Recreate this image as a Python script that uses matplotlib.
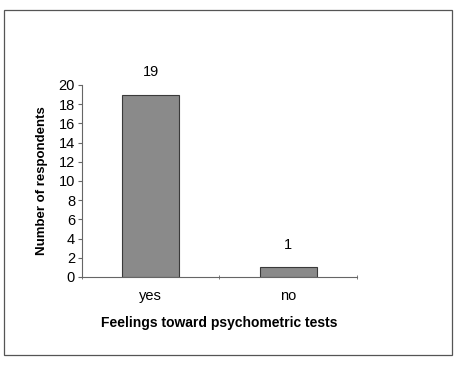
import matplotlib.pyplot as plt
from matplotlib.patches import Rectangle

plt.rcParams["font.family"] = ["Liberation Sans", "DejaVu Sans"]

categories = ["yes", "no"]
counts = [19, 1]
y_ticks = list(range(0, 21, 2))

fig = plt.figure(figsize=(4.62, 3.70), dpi=100)

# outer frame around the whole chart
fig.patches.append(Rectangle((0.0087, 0.0405), 0.9697, 0.9324, transform=fig.transFigure,
                             fill=False, edgecolor="#555555", linewidth=0.9))

ax = fig.add_axes([0.1775, 0.2514, 0.5952, 0.5189])
x = list(range(len(categories)))
bars = ax.bar(x, counts, width=0.415, color="#8a8a8a", edgecolor="#3a3a3a", linewidth=0.8)

for xi, c in zip(x, counts):
    ax.text(xi, c + 1.6, str(c), ha="center", va="bottom", fontsize=10.5)

ax.set_xlim(-0.5, 1.5)
ax.set_ylim(0, 20)
ax.set_yticks(y_ticks)
ax.set_yticklabels([str(t) for t in y_ticks], fontsize=10.5)
ax.set_xticks(x)
ax.set_xticklabels(categories, fontsize=10.5)
ax.tick_params(axis="x", length=0, pad=9)
ax.set_xticks([-0.5, 0.5, 1.5], minor=True)
ax.tick_params(axis="x", which="minor", length=3, direction="inout", color="#666666")
ax.tick_params(axis="y", length=3, color="#666666", pad=2)

for s in ["top", "right"]:
    ax.spines[s].set_visible(False)
ax.spines["left"].set_color("#666666")
ax.spines["bottom"].set_color("#666666")

ax.set_xlabel("Feelings toward psychometric tests", fontsize=10, fontweight="bold", labelpad=9)
ax.set_ylabel("Number of respondents", fontsize=9.5, fontweight="bold", labelpad=8)

fig.savefig("out.png", dpi=100)
